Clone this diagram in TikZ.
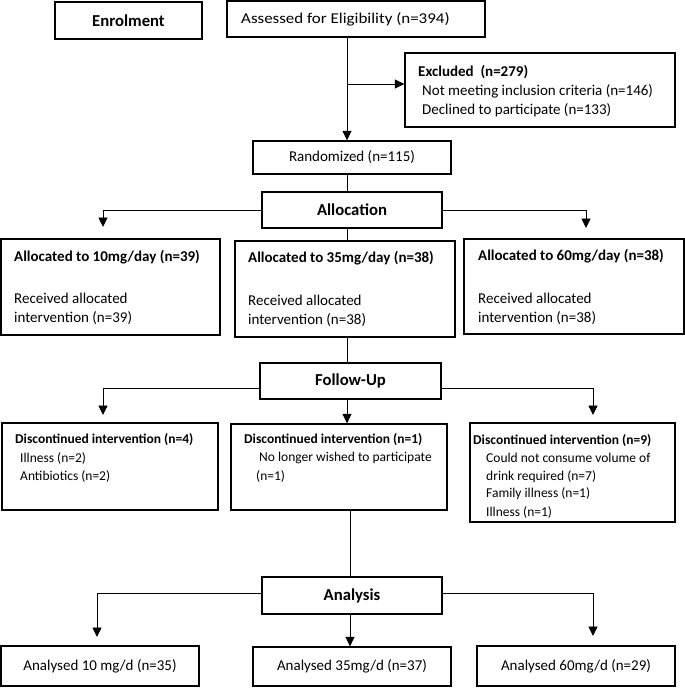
\documentclass[tikz,border=0pt]{standalone}
\usepackage{fontspec}
\setmainfont{Carlito}
\newfontfamily\widefont[FakeStretch=1.13]{Carlito}
\usetikzlibrary{arrows.meta}
\begin{document}
\begin{tikzpicture}[x=1pt,y=-1pt,
 box/.style={draw, line width=1.3pt, rectangle, inner sep=0pt},
 conn/.style={line width=0.9pt},
 arr/.style={conn, -{Triangle[width=9pt,length=9.5pt]}},
 head/.style={font=\fontsize{16.7}{20}\selectfont\bfseries},
 txt/.style={anchor=west, inner sep=0pt, font=\fontsize{15}{18}\selectfont},
 btxt/.style={anchor=west, inner sep=0pt, font=\fontsize{15}{18}\selectfont\bfseries},
 stxt/.style={anchor=west, inner sep=0pt, font=\fontsize{13.5}{16}\selectfont},
 sbtxt/.style={anchor=west, inner sep=0pt, font=\fontsize{13.5}{16}\selectfont\bfseries}]
\useasboundingbox (0,0) rectangle (685,688);

% boxes
\node[box, head, minimum width=147pt, minimum height=37pt] (enrol) at (128.5,20.5) {Enrolment};
\node[box, minimum width=258pt, minimum height=36pt] (assess) at (356,19) {};
\node[box, minimum width=270pt, minimum height=74pt] (excl) at (540,90) {};
\node[box, minimum width=198pt, minimum height=33pt, font=\fontsize{15}{18}\selectfont] (rand) at (352,157.5) {Randomized (n=115)};
\node[box, head, minimum width=180pt, minimum height=36pt] (alloc) at (352,210) {Allocation};
\node[box, minimum width=219pt, minimum height=96pt] (a10) at (110.5,287) {};
\node[box, minimum width=220pt, minimum height=96pt] (a35) at (345,289) {};
\node[box, minimum width=220pt, minimum height=95pt] (a60) at (574,286.5) {};
\node[box, head, minimum width=181pt, minimum height=36pt] (fu) at (350.5,381) {Follow-Up};
\node[box, minimum width=216pt, minimum height=87pt] (d4) at (110,466.5) {};
\node[box, minimum width=216pt, minimum height=86pt] (d1) at (339,467) {};
\node[box, minimum width=205pt, minimum height=99pt] (d9) at (572.5,472.5) {};
\node[box, head, minimum width=180pt, minimum height=37pt] (an) at (352,595.5) {Analysis};
\node[box, minimum width=198pt, minimum height=40pt, font=\fontsize{15}{18}\selectfont] (r10) at (100,666) {Analysed 10 mg/d (n=35)};
\node[box, minimum width=198pt, minimum height=39pt, font=\fontsize{15}{18}\selectfont] (r35) at (352,666.5) {Analysed 35mg/d (n=37)};
\node[box, minimum width=198pt, minimum height=40pt, font=\fontsize{15}{18}\selectfont] (r60) at (576,666) {Analysed 60mg/d (n=29)};

% texts
\node[anchor=west, inner sep=0pt, font=\widefont\fontsize{15}{18}\selectfont] (tas) at (241,19) {Assessed for Eligibility (n=394)};
\node[btxt] (tex1) at (418,72) {Excluded\ \ (n=279)};
\node[txt] (tex2) at (422,91) {Not meeting inclusion criteria (n=146)};
\node[txt] (tex3) at (422,110) {Declined to participate (n=133)};

\node[btxt] (ta10a) at (14,257) {Allocated to 10mg/day (n=39)};
\node[txt] (ta10b) at (14,298) {Received allocated};
\node[txt] (ta10c) at (14,318) {intervention (n=39)};
\node[btxt] (ta35a) at (248,258) {Allocated to 35mg/day (n=38)};
\node[txt] (ta35b) at (248,300) {Received allocated};
\node[txt] (ta35c) at (248,320) {intervention (n=38)};
\node[btxt] (ta60a) at (478,256) {Allocated to 60mg/day (n=38)};
\node[txt] (ta60b) at (478,298) {Received allocated};
\node[txt] (ta60c) at (478,318) {intervention (n=38)};

\node[sbtxt] (td4a) at (15,440) {Discontinued intervention (n=4)};
\node[stxt] (td4b) at (20,458) {Illness (n=2)};
\node[stxt] (td4c) at (20,476) {Antibiotics (n=2)};
\node[sbtxt] (td1a) at (244,440) {Discontinued intervention (n=1)};
\node[stxt] (td1b) at (259,458) {No longer wished to participate};
\node[stxt] (td1c) at (256,476) {(n=1)};
\node[sbtxt] (td9a) at (473,441) {Discontinued intervention (n=9)};
\node[stxt] (td9b) at (486,458) {Could not consume volume of};
\node[stxt] (td9c) at (486,477) {drink required (n=7)};
\node[stxt] (td9d) at (486,494) {Family illness (n=1)};
\node[stxt] (td9e) at (486,512) {Illness (n=1)};

% coordinates
\coordinate (m1) at (347,0);
\coordinate (m2) at (350,0);
\coordinate (ex) at (347,84);
\coordinate (t10) at (103,227);
\coordinate (t60) at (586,228);
\coordinate (fl) at (0,388);
\coordinate (t4) at (103,415);
\coordinate (t9) at (593,415);
\coordinate (al) at (0,593);
\coordinate (tr10) at (97,637);
\coordinate (tr60) at (593,636);

% connectors
\draw[arr] (assess.south -| m1) -- (rand.north -| m1);
\draw[arr] (ex) -- (ex -| excl.west);
\draw[conn] (rand.south -| m1) -- (alloc.north -| m1);
\draw[arr] (alloc.west) -| (t10);
\draw[arr] (alloc.east) -| (t60);
\draw[conn] (alloc.south -| m1) -- (a35.north -| m1);
\draw[conn] (a35.south -| m1) -- (fu.north -| m1);
\draw[arr] (fu.west |- fl) -| (t4);
\draw[arr] (fu.east |- fl) -| (t9);
\draw[arr] (fu.south -| m1) -- (d1.north -| m1);
\draw[conn] (d1.south -| m2) -- (an.north -| m2);
\draw[arr] (an.west |- al) -| (tr10);
\draw[arr] (an.east |- al) -| (tr60);
\draw[arr] (an.south -| m2) -- (r35.north -| m2);
\end{tikzpicture}
\end{document}
